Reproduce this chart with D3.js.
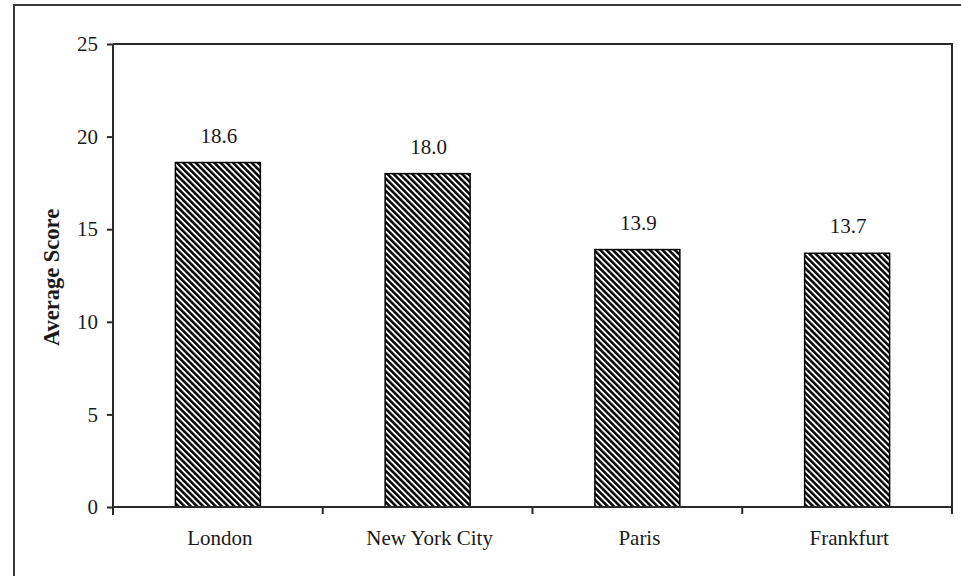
<!DOCTYPE html>
<html>
<head>
<meta charset="utf-8">
<script src="https://cdn.jsdelivr.net/npm/d3@7"></script>
<style>
  html, body { margin: 0; padding: 0; background: #fff; }
  svg { display: block; }
</style>
</head>
<body>
<svg id="chart" width="961" height="576"></svg>
<script>
// Average score by financial centre
const cities = ["London", "New York City", "Paris", "Frankfurt"];
const scores = [18.6, 18.0, 13.9, 13.7];
const scoreTicks = [0, 5, 10, 15, 20, 25];

const FONT = "'Liberation Serif', Tinos, 'Times New Roman', Times, 'DejaVu Serif', serif";
const INK = "#1a1a1a";

const svg = d3.select("#chart");
const W = 961, H = 576;
const plot = { left: 113, top: 44, right: 952, bottom: 507 };

// hatch fill for the bars
const defs = svg.append("defs");
defs.append("pattern")
  .attr("id", "hatch")
  .attr("patternUnits", "userSpaceOnUse")
  .attr("width", 4.4).attr("height", 10)
  .attr("patternTransform", "rotate(-45)")
  .append("rect")
  .attr("x", 0).attr("y", 0)
  .attr("width", 2.5).attr("height", 10)
  .attr("fill", "#000");

// outer frame (runs off the right and bottom edges)
svg.append("path")
  .attr("d", `M14,${H + 5} L14,5 L${W + 5},5`)
  .attr("fill", "none")
  .attr("stroke", "#3a3a3a")
  .attr("stroke-width", 2);

const x = d3.scaleBand()
  .domain(cities)
  .range([plot.left, plot.right])
  .paddingInner(0.595)
  .paddingOuter(0.2975);

const y = d3.scaleLinear()
  .domain([0, 25])
  .range([plot.bottom, plot.top]);

// plot area border: top and right sides
svg.append("path")
  .attr("d", `M${plot.left},${plot.top} L${plot.right},${plot.top} L${plot.right},${plot.bottom}`)
  .attr("fill", "none")
  .attr("stroke", "#2a2a2a")
  .attr("stroke-width", 2);

// bars
svg.append("g")
  .selectAll("rect")
  .data(cities)
  .join("rect")
  .attr("x", (d) => x(d))
  .attr("y", (d, i) => y(scores[i]))
  .attr("width", x.bandwidth())
  .attr("height", (d, i) => y(0) - y(scores[i]))
  .attr("fill", "url(#hatch)")
  .attr("stroke", "#000")
  .attr("stroke-width", 1.5);

// value labels
svg.append("g")
  .selectAll("text")
  .data(cities)
  .join("text")
  .attr("x", (d) => x(d) + x.bandwidth() / 2 + 1)
  .attr("y", (d, i) => y(scores[i]) - 20)
  .attr("text-anchor", "middle")
  .style("font-family", FONT)
  .style("font-size", "21px")
  .style("fill", INK)
  .text((d, i) => scores[i].toFixed(1));

// y axis
const yAxis = svg.append("g")
  .attr("transform", `translate(${plot.left},0)`)
  .call(d3.axisLeft(y).tickValues(scoreTicks).tickSize(6).tickPadding(9).tickFormat(d3.format("d")));
yAxis.select(".domain").attr("stroke", "#2a2a2a").attr("stroke-width", 2)
  .attr("d", `M0,${plot.top}V${plot.bottom + 8}`);
yAxis.selectAll(".tick line").attr("stroke", "#2a2a2a").attr("stroke-width", 2);
yAxis.selectAll(".tick text")
  .style("font-family", FONT)
  .style("font-size", "21px")
  .style("fill", INK);

// x axis: ticks sit on the category boundaries
const step = x.step();
const edges = cities.map((c) => x(c) - step * x.paddingInner() / 2);
edges.push(x(cities[cities.length - 1]) + x.bandwidth() + step * x.paddingInner() / 2);

const xAxis = svg.append("g");
xAxis.append("line")
  .attr("x1", plot.left).attr("x2", plot.right + 1)
  .attr("y1", plot.bottom).attr("y2", plot.bottom)
  .attr("stroke", "#2a2a2a").attr("stroke-width", 2);
xAxis.selectAll("line.edge")
  .data(edges)
  .join("line")
  .attr("class", "edge")
  .attr("x1", (d) => d).attr("x2", (d) => d)
  .attr("y1", plot.bottom).attr("y2", plot.bottom + 7)
  .attr("stroke", "#2a2a2a").attr("stroke-width", 2);
xAxis.selectAll("text")
  .data(cities)
  .join("text")
  .attr("x", (d) => x(d) + x.bandwidth() / 2 + 2)
  .attr("y", 545)
  .attr("text-anchor", "middle")
  .style("font-family", FONT)
  .style("font-size", "21px")
  .style("fill", INK)
  .text((d) => d);

// y axis title
svg.append("text")
  .attr("transform", `translate(59,${(plot.top + plot.bottom) / 2 + 2}) rotate(-90)`)
  .attr("text-anchor", "middle")
  .style("font-family", FONT)
  .style("font-size", "22.5px")
  .style("font-weight", "bold")
  .style("fill", INK)
  .text("Average Score");
</script>
</body>
</html>
